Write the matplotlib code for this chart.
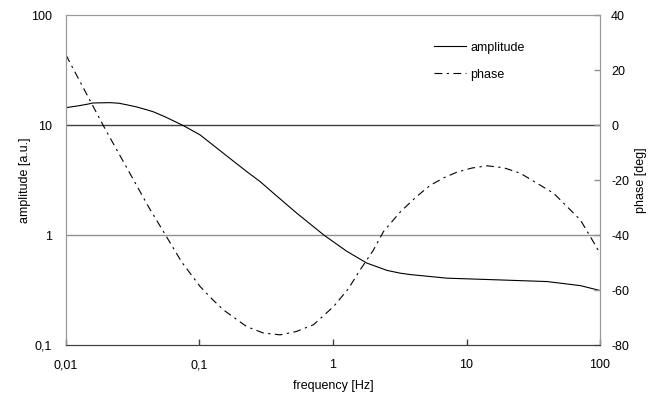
import matplotlib.pyplot as plt
from matplotlib.ticker import FixedLocator, FixedFormatter, NullLocator

plt.rcParams['font.family'] = ['Liberation Sans', 'DejaVu Sans']
plt.rcParams['axes.unicode_minus'] = False
fs = 9

# data
freq_amp = [0.01, 0.0125, 0.0145, 0.016, 0.0214, 0.025, 0.0285, 0.034, 0.04, 0.0451,
            0.055, 0.0752, 0.101, 0.151, 0.226, 0.285, 0.358, 0.536, 0.86, 1.27,
            1.79, 2.54, 3.19, 3.79, 7.14, 16.9, 40.2, 71.3, 100]
amplitude = [14.5, 15.1, 15.6, 16.0, 16.1, 15.9, 15.4, 14.7, 13.9, 13.3,
             12.0, 10.0, 8.2, 5.58, 3.80, 3.08, 2.42, 1.59, 1.0, 0.716,
             0.56, 0.48, 0.453, 0.44, 0.408, 0.394, 0.38, 0.349, 0.315]

freq_ph = [0.01, 0.019, 0.0414, 0.0736, 0.101, 0.125, 0.151, 0.19, 0.226, 0.30,
           0.402, 0.53, 0.715, 1.01, 1.3, 1.60, 2.0, 2.39, 3.19, 4.2,
           5.35, 6.8, 8.49, 11.0, 14.3, 19.0, 25.3, 45, 71.3, 84.7, 100]
phase = [25.6, 0, -29.5, -49.7, -58.6, -63.3, -67.1, -70.6, -73.2, -75.5,
         -76.2, -75.0, -72.5, -65.9, -59.5, -52.5, -45.5, -38.6, -31.5, -26.0,
         -21.8, -19.0, -17.0, -15.5, -14.7, -15.4, -17.4, -24.7, -34.4, -40.5, -46.5]

x_ticks = [0.01, 0.1, 1, 10, 100]
x_labels = ['0,01', '0,1', '1', '10', '100']
amp_ticks = [0.1, 1, 10, 100]
amp_labels = ['0,1', '1', '10', '100']
ph_ticks = [40, 20, 0, -20, -40, -60, -80]

fig, ax = plt.subplots(figsize=(6.63, 3.96), dpi=100)
plt.subplots_adjust(left=0.0995, right=0.905, top=0.961, bottom=0.128)
ax2 = ax.twinx()

ax.set_xscale('log')
ax.set_yscale('log')
ax.set_xlim(0.01, 100)
ax.set_ylim(0.1, 100)
ax2.set_ylim(-80, 40)

ax.axhline(10, color='#404040', lw=1.0, zorder=1)
ax.axhline(1, color='#909090', lw=1.0, zorder=1)

l1, = ax.plot(freq_amp, amplitude, color='black', lw=0.8, label='amplitude',
              solid_joinstyle='round')
l2, = ax2.plot(freq_ph, phase, color='black', lw=0.8, dashes=(7, 4, 2, 4),
               label='phase', dash_joinstyle='round')

ax.xaxis.set_major_locator(FixedLocator(x_ticks))
ax.xaxis.set_major_formatter(FixedFormatter(x_labels))
ax.xaxis.set_minor_locator(NullLocator())
ax.yaxis.set_major_locator(FixedLocator(amp_ticks))
ax.yaxis.set_major_formatter(FixedFormatter(amp_labels))
ax.yaxis.set_minor_locator(NullLocator())
ax2.yaxis.set_major_locator(FixedLocator(ph_ticks))

ax.tick_params(axis='x', direction='in', length=4, width=1, color='#404040', labelsize=fs, pad=10)
ax.tick_params(axis='y', length=0, labelsize=fs, pad=10)
ax2.tick_params(axis='y', direction='in', length=4, width=1, color='#909090', labelsize=fs, pad=8)

for a in (ax, ax2):
    for side in ('left', 'right', 'top'):
        a.spines[side].set_color('#999999')
    a.spines['bottom'].set_color('#404040')

ax.set_xlabel('frequency [Hz]', fontsize=fs, labelpad=6)
ax.set_ylabel('amplitude [a.u.]', fontsize=fs, labelpad=0)
ax2.set_ylabel('phase [deg]', fontsize=fs, labelpad=4)

ax2.legend(handles=[l1, l2], loc='upper left', bbox_to_anchor=(0.668, 0.955),
           frameon=False, fontsize=fs, handlelength=2.6, handletextpad=0.3,
           labelspacing=1.2)

plt.savefig('out.png', dpi=100)
